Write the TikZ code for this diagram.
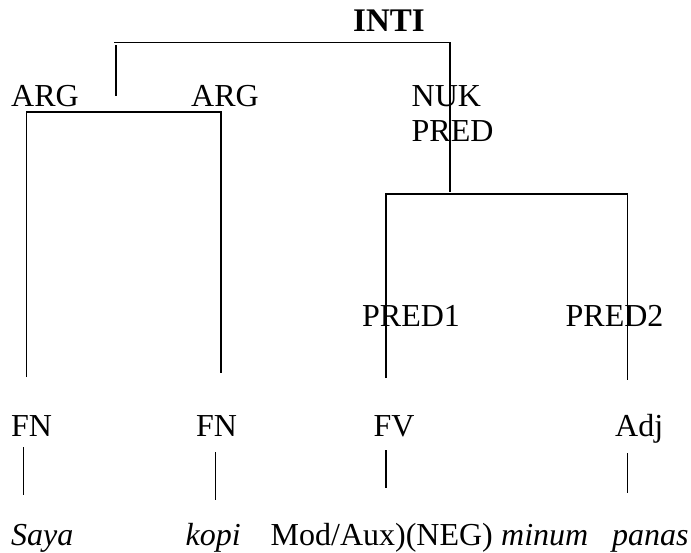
\documentclass[tikz,border=0pt]{standalone}
\usepackage{fontspec}
\setmainfont{Liberation Serif}
\begin{document}
\begin{tikzpicture}[x=1pt,y=-1pt,
  lbl/.style={anchor=base west, inner sep=0pt, font=\fontsize{32}{36}\selectfont},
  branch/.style={line width=1.3pt, line cap=butt}]
\useasboundingbox (0,0) rectangle (691,552);

% labels
\node[lbl, font=\fontsize{33}{36}\selectfont\bfseries] (inti) at (353,31) {INTI};
\node[lbl] (arg1) at (11,106) {ARG};
\node[lbl] (arg2) at (191,106) {ARG};
\node[lbl] (nuk) at (411.5,106) {NUK};
\node[lbl] (pred) at (411.5,141.7) {PRED};
\node[lbl] (pred1) at (362,326) {PRED1};
\node[lbl] (pred2) at (565.5,326) {PRED2};
\node[lbl] (fn1) at (11,436.7) {FN};
\node[lbl] (fn2) at (196,436.7) {FN};
\node[lbl] (fv) at (373.5,436.7) {FV};
\node[lbl] (adj) at (615,436.7) {Adj};
\node[lbl] (saya) at (11,545) {\itshape Saya};
\node[lbl] (kopi) at (185.5,545) {\itshape kopi};
\node[lbl] (modaux) at (270.5,545) {Mod/Aux)(NEG)};
\node[lbl] (minum) at (501,545) {\itshape minum};
\node[lbl] (panas) at (612,545) {\itshape panas};

% branch points
\coordinate (tL) at (114,42.5);   \coordinate (tR) at (450,42.5);
\coordinate (tLd0) at (116,45);   \coordinate (tLd1) at (116,96);
\coordinate (tRd1) at (450,192);

\coordinate (aL) at (26.5,112); \coordinate (aR) at (221,112);
\coordinate (aLd) at (26.5,377); \coordinate (aRd) at (221,373);

\coordinate (pL) at (386,194);  \coordinate (pR) at (627.5,194);
\coordinate (pLd) at (386,378); \coordinate (pRd) at (627.5,380);

\coordinate (s1a) at (23.5,447);  \coordinate (s1b) at (23.5,495);
\coordinate (s2a) at (215.5,452); \coordinate (s2b) at (215.5,500);
\coordinate (s3a) at (386,450);   \coordinate (s3b) at (386,488);
\coordinate (s4a) at (627.5,453); \coordinate (s4b) at (627.5,493);

% INTI bracket
\draw[branch] (tL) -- (tR) -- (tRd1);
\draw[branch] (tLd0) -- (tLd1);
% ARG bracket
\draw[branch] (aLd) -- (aL) -- (aR) -- (aRd);
% predicate bracket
\draw[branch] (pLd) -- (pL) -- (pR) -- (pRd);
% lexical sticks
\draw[branch] (s1a) -- (s1b);
\draw[branch] (s2a) -- (s2b);
\draw[branch] (s3a) -- (s3b);
\draw[branch] (s4a) -- (s4b);
\end{tikzpicture}
\end{document}
